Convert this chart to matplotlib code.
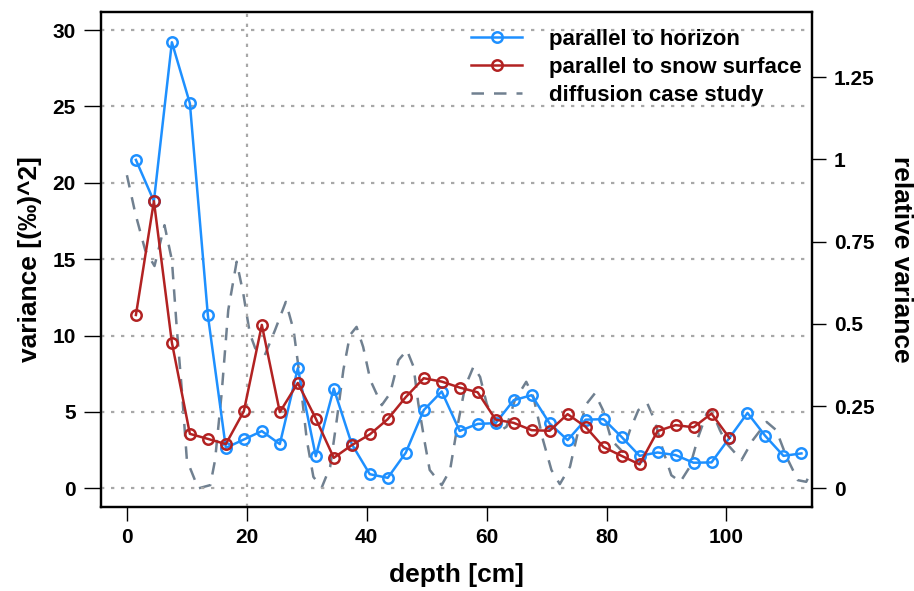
import numpy as np
import matplotlib.pyplot as plt

plt.rcParams['font.family'] = ['Liberation Sans', 'DejaVu Sans']
plt.rcParams['font.weight'] = 'bold'

# depth of the sample layers (cm)
depth_horizon = [1.5, 4.5, 7.5, 10.5, 13.5, 16.5, 19.5, 22.5, 25.5, 28.5,
                 31.5, 34.5, 37.5, 40.5, 43.5, 46.5, 49.5, 52.5, 55.5, 58.5,
                 61.5, 64.5, 67.5, 70.5, 73.5, 76.5, 79.5, 82.5, 85.5, 88.5,
                 91.5, 94.5, 97.5, 100.5, 103.5, 106.5, 109.5, 112.5]
var_horizon = [21.5, 18.8, 29.2, 25.2, 11.33, 2.65, 3.2, 3.75, 2.9, 7.86,
               2.11, 6.53, 2.9, 0.93, 0.69, 2.33, 5.12, 6.34, 3.76, 4.22,
               4.27, 5.77, 6.1, 4.25, 3.16, 4.5, 4.53, 3.37, 2.13, 2.35,
               2.18, 1.68, 1.7, 3.31, 4.94, 3.42, 2.13, 2.29]

depth_surface = depth_horizon[:34]
var_surface = [11.35, 18.8, 9.54, 3.57, 3.24, 2.9, 5.05, 10.7, 4.99, 6.9,
               4.57, 2.0, 2.83, 3.53, 4.53, 5.97, 7.21, 6.99, 6.6, 6.29,
               4.5, 4.29, 3.81, 3.77, 4.86, 4.03, 2.7, 2.13, 1.57, 3.75,
               4.14, 4.0, 4.9, 3.29]

# diffusion case study, relative variance
depth_diff = [0, 1.4, 3.05, 4.6, 6.27, 7.5, 8.3, 9.2, 10.0, 11.9, 13.9, 14.7,
              15.8, 16.9, 18.3, 19.4, 20.5, 21.4, 23.0, 24.7, 26.5, 27.8,
              28.9, 30.0, 31.1, 32.5, 33.9, 35.0, 36.1, 37.2, 38.3, 39.4,
              40.6, 42.5, 43.9, 45.3, 46.7, 47.8, 48.6, 49.7, 50.5, 52.5,
              53.9, 55.0, 56.4, 57.8, 58.9, 60.0, 61.9, 63.3, 64.7, 66.6,
              67.8, 69.4, 70.8, 72.2, 73.9, 75.3, 76.7, 78.05, 79.4, 80.8,
              82.7, 83.9, 85.3, 86.8, 88.0, 89.4, 90.8, 92.3, 93.9, 95.3,
              96.7, 97.5, 98.9, 100.0, 102.5, 104.4, 106.7, 108.3, 110.0,
              111.9, 113.3, 114.5]
rel_diff = [0.952, 0.836, 0.724, 0.676, 0.80, 0.694, 0.491, 0.289, 0.086, 0.0,
            0.01, 0.086, 0.289, 0.542, 0.689, 0.593, 0.471, 0.426, 0.405,
            0.481, 0.567, 0.481, 0.329, 0.147, 0.035, 0.003, 0.066, 0.208,
            0.36, 0.466, 0.491, 0.43, 0.329, 0.253, 0.289, 0.39, 0.42, 0.37,
            0.258, 0.137, 0.056, 0.01, 0.056, 0.177, 0.309, 0.37, 0.339,
            0.258, 0.172, 0.187, 0.268, 0.324, 0.278, 0.147, 0.056, 0.013,
            0.066, 0.177, 0.258, 0.289, 0.238, 0.147, 0.111, 0.177, 0.238,
            0.258, 0.208, 0.116, 0.04, 0.02, 0.066, 0.157, 0.228, 0.238,
            0.177, 0.137, 0.086, 0.147, 0.202, 0.177, 0.096, 0.025, 0.02,
            0.066]

blue = '#1E90FF'
red = '#B22222'
slate = '#708090'

fig = plt.figure(figsize=(9.14, 5.91), dpi=100)
ax = fig.add_axes([0.11, 0.1426, 0.778, 0.8376])
ax2 = ax.twinx()

# grid: horizontal at left ticks, one vertical line at 20 cm
for yv in [0, 5, 10, 15, 20, 25, 30]:
    ax.axhline(yv, color='#a8a8a8', ls=(0, (1.5, 3)), lw=1.6, zorder=0)
ax.axvline(20, color='#a8a8a8', ls=(0, (1.5, 3)), lw=1.6, zorder=0)

ax2.plot(depth_diff, rel_diff, color=slate, ls=(0, (5, 4)), lw=1.8,
         label='diffusion case study')
ax.plot(depth_horizon, var_horizon, color=blue, lw=1.8, marker='o', ms=7.5,
        mfc='none', mew=1.8, label='parallel to horizon')
ax.plot(depth_surface, var_surface, color=red, lw=1.8, marker='o', ms=7.5,
        mfc='none', mew=1.8, label='parallel to snow surface')

ax.set_zorder(ax2.get_zorder() + 1)
ax.patch.set_visible(False)

ax.set_xlim(-4.4, 114.2)
ax.set_ylim(-1.2, 31.2)
ax2.set_ylim(-0.0557, 1.449)

ax.set_xticks([0, 20, 40, 60, 80, 100])
ax.set_yticks([0, 5, 10, 15, 20, 25, 30])
ax2.set_yticks([0, 0.25, 0.5, 0.75, 1, 1.25])
ax2.set_yticklabels(['0', '0.25', '0.5', '0.75', '1', '1.25'])

for a in (ax, ax2):
    for s in a.spines.values():
        s.set_linewidth(1.6)
    a.tick_params(labelsize=15, width=1.0, length=10, pad=6)
ax.tick_params(axis='y', length=12, pad=6)
ax.tick_params(axis='x', pad=5)

ax.set_xlabel('depth [cm]', fontsize=19, fontweight='bold', labelpad=12)
ax.set_ylabel('variance [(‰)^2]', fontsize=19, fontweight='bold', labelpad=7)
ax2.set_ylabel('relative variance', fontsize=19, fontweight='bold',
               rotation=270, labelpad=28)

h1, l1 = ax.get_legend_handles_labels()
h2, l2 = ax2.get_legend_handles_labels()
ax.legend(h1 + h2, l1 + l2, loc='upper right', bbox_to_anchor=(1.014, 1.006),
          frameon=False, handlelength=2.3, labelspacing=0.32,
          handletextpad=1.2, prop={'weight': 'bold', 'size': 16})

fig.savefig('out.png', dpi=100)
